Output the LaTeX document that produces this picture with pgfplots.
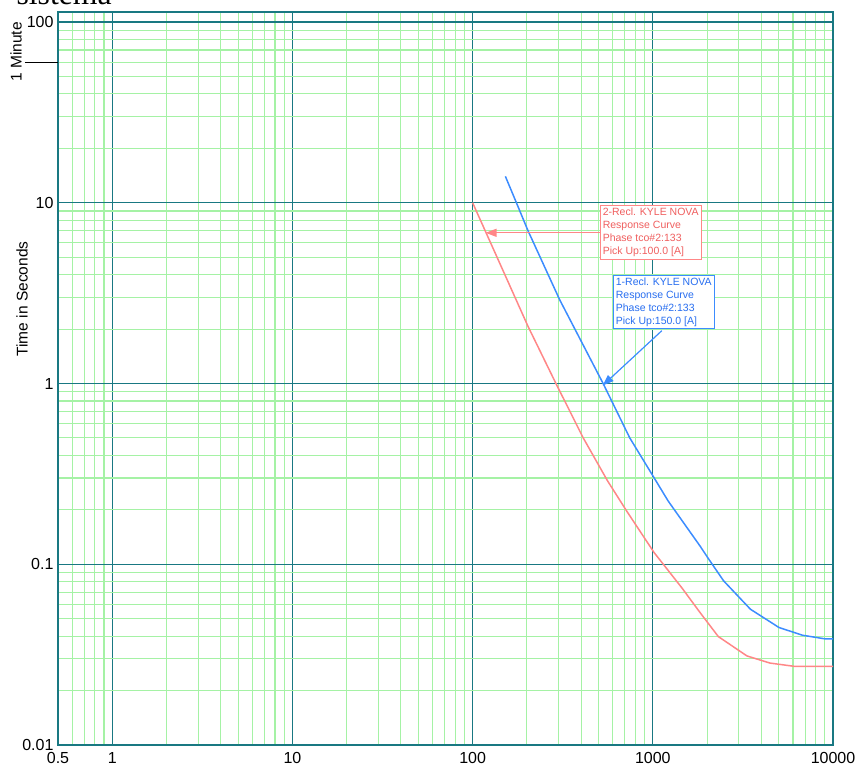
\documentclass[border=0pt]{standalone}
\usepackage{fontspec}
\setmainfont{Liberation Sans}
\newfontfamily\serifttl{Liberation Serif}
\usepackage{pgfplots}
\pgfplotsset{compat=1.18}
\usetikzlibrary{arrows.meta}
\definecolor{majg}{RGB}{25,120,130}
\definecolor{ming}{RGB}{165,242,165}
\definecolor{redc}{RGB}{255,135,135}
\definecolor{redt}{RGB}{240,95,95}
\definecolor{bluec}{RGB}{60,140,255}
\definecolor{bluet}{RGB}{40,110,240}
\begin{document}
\begin{tikzpicture}
\begin{axis}[
  name=ax,
  xmode=log, ymode=log,
  scale only axis,
  width=775pt, height=733pt,
  xmin=0.5, xmax=10000,
  ymin=0.01, ymax=113.6,
  xtick={1,10,100,1000,10000},
  xticklabels={1,10,100,1000,10000},
  extra x ticks={0.5},
  extra x tick labels={0.5},
  extra x tick style={grid=none},
  ytick={0.01,0.1,1,10,100},
  yticklabels={0.01,0.1,1,10,100},
  minor xtick={0.6,0.7,0.8,0.9,2,3,4,5,6,7,8,9,20,30,40,50,60,70,80,90,200,300,400,500,600,700,800,900,2000,3000,4000,5000,6000,7000,8000,9000},
  minor ytick={0.02,0.03,0.04,0.05,0.06,0.07,0.08,0.09,0.2,0.3,0.4,0.5,0.6,0.7,0.8,0.9,2,3,4,5,6,7,8,9,20,30,40,50,60,70,80,90},
  grid=both,
  major grid style={draw=majg, line width=1.2pt},
  minor grid style={draw=ming, line width=1.1pt},
  axis line style={draw=majg, line width=1.3pt},
  tick style={draw=none},
  major tick length=0pt, minor tick length=0pt,
  tick label style={font=\fontsize{16}{16}\selectfont},
  /pgf/number format/assume math mode=true,
  xticklabel style={yshift=-4pt},
  yticklabel style={xshift=-1pt},
  clip=false,
]
\addplot[color=redc, line width=1.5pt] coordinates {
(100,10) (150,4.06) (203,2.07) (290,1.0) (411,0.5) (560,0.29) (716,0.197) (1017,0.116) (1450,0.074) (1830,0.054) (2310,0.0398) (3330,0.0311) (4470,0.0284) (6160,0.0272) (10000,0.0272)
};
\addplot[color=bluec, line width=1.5pt] coordinates {
(152,14.0) (175,10) (203,7.0) (304,2.91) (530,1.0) (745,0.50) (1016,0.301) (1216,0.224) (1830,0.126) (2040,0.107) (2470,0.081) (3480,0.0564) (5010,0.0447) (6760,0.0405) (9120,0.0386) (10000,0.0386)
};
% annotations
\draw[redc, line width=1.2pt, -{Triangle[length=11pt,width=8pt]}] (axis cs:508,6.82) -- (axis cs:118,6.82);
\node[draw=redc, line width=1pt, fill=white, anchor=north west, align=left, inner sep=2.5pt,
  font=\fontsize{10.5}{13}\selectfont, text=redt] at (axis cs:508,9.75)
  {2-Recl. KYLE NOVA\\Response Curve\\Phase tco\#2:133\\Pick Up:100.0 [A]};
\draw[bluec, line width=1.2pt, -{Triangle[length=11pt,width=8pt]}] (axis cs:1122,1.96) -- (axis cs:527,0.975);
\node[draw=bluec, line width=1pt, fill=white, anchor=north west, align=left, inner sep=2.5pt,
  font=\fontsize{10.5}{13}\selectfont, text=bluet] at (axis cs:600,4.0)
  {1-Recl. KYLE NOVA\\Response Curve\\Phase tco\#2:133\\Pick Up:150.0 [A]};
% y label and 1 Minute marker
\node[rotate=90, anchor=center, font=\fontsize{15.5}{15.5}\selectfont] at (axis description cs:-0.0465,0.6085) {Time in Seconds};
\node[rotate=90, anchor=center, font=\fontsize{15.5}{15.5}\selectfont] at (axis description cs:-0.0542,0.9454) {1 Minute};
\draw[black, line width=1pt] ([xshift=-33pt]axis cs:0.5,60) -- (axis cs:0.5,60);
\end{axis}
\node[anchor=base west, font=\serifttl\fontsize{31.7}{31.7}\selectfont] at ([xshift=-45pt,yshift=7pt]ax.north west) {sistema};
\pgfresetboundingbox
\useasboundingbox ([xshift=-58pt,yshift=-27pt]ax.south west) rectangle ([xshift=26pt,yshift=12pt]ax.north east);
\end{tikzpicture}
\end{document}
